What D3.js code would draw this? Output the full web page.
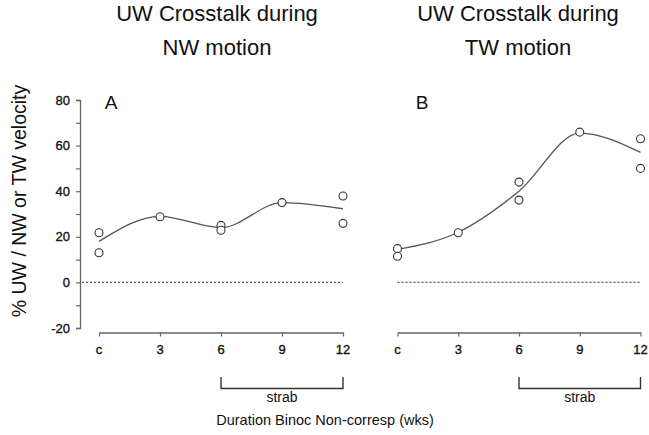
<!DOCTYPE html>
<html>
<head>
<meta charset="utf-8">
<script src="https://cdn.jsdelivr.net/npm/d3@7"></script>
<style>
  body { margin: 0; background: #fff; }
  text { font-family: "Liberation Sans", Arial, sans-serif; fill: #111; }
  .tk { stroke: #111; stroke-width: 0.35px; }
</style>
</head>
<body>
<svg id="chart" width="649" height="435"></svg>
<script>
// weeks of binocular non-correspondence (0 = control "c")
const weeks = [0, 3, 6, 9, 12];
const weekLabels = ["c", "3", "6", "9", "12"];

// panel A: UW crosstalk during NW motion (individual animals)
const ptsA = [[0, 21.8], [0, 13], [3, 28.8], [6, 25], [6, 22.9], [9, 35], [12, 37.9], [12, 25.9]];
const fitA = [18, 29, 24, 35, 32.3];

// panel B: UW crosstalk during TW motion
const ptsB = [[0, 14.8], [0, 11.5], [3, 21.8], [6, 44], [6, 36.1], [9, 65.9], [12, 63], [12, 50]];
const fitB = [14.5, 22, 40, 65.5, 57];

const yTicks = [-20, 0, 20, 40, 60, 80];

const svg = d3.select("#chart");

const y = d3.scaleLinear().domain([-20, 80]).range([328, 100]);

// y axis (only on the left panel)
const yAxis = svg.append("g").attr("transform", "translate(80,0)")
  .call(d3.axisLeft(y).tickValues(d3.range(-20, 81, 10)).tickSize(4).tickFormat(""));
yAxis.select(".domain").attr("stroke", "#666").attr("stroke-width", 1.3);
yAxis.selectAll(".tick line").attr("stroke", "#666").attr("stroke-width", 1.2);
svg.append("g").selectAll("text").data(yTicks).join("text")
  .attr("class", "tk")
  .attr("x", 70).attr("y", d => y(d)).attr("dy", "0.35em")
  .attr("text-anchor", "end").style("font-size", "13px")
  .text(d => d);

svg.append("text")
  .attr("transform", "translate(26,201) rotate(-90)")
  .attr("text-anchor", "middle").style("font-size", "19.5px")
  .text("% UW / NW or TW velocity");

const panels = [
  { letter: "A", title: ["UW Crosstalk during", "NW motion"], range: [99, 343], pts: ptsA, fit: fitA, tx: 217, lx: 111 },
  { letter: "B", title: ["UW Crosstalk during", "TW motion"], range: [397.5, 640.5], pts: ptsB, fit: fitB, tx: 518, lx: 422 }
];

panels.forEach(p => {
  const x = d3.scaleLinear().domain([0, 12]).range(p.range);
  const g = svg.append("g");

  // title
  g.append("text").attr("x", p.tx).attr("text-anchor", "middle").style("font-size", "22px")
    .selectAll("tspan").data(p.title).join("tspan")
      .attr("x", p.tx).attr("y", (d, i) => 21 + i * 34).text(d => d);

  g.append("text").attr("x", p.lx).attr("y", 109).attr("text-anchor", "middle")
    .style("font-size", "19px").text(p.letter);

  // x axis
  const xAxis = g.append("g").attr("transform", "translate(0,332.5)")
    .call(d3.axisBottom(x).tickValues(weeks).tickSize(4).tickSizeOuter(0).tickFormat(""));
  xAxis.select(".domain").attr("stroke", "#666").attr("stroke-width", 1.3);
  xAxis.selectAll(".tick line").attr("stroke", "#666").attr("stroke-width", 1.2);
  g.selectAll("text.xl").data(weeks).join("text").attr("class", "xl tk")
    .attr("x", d => x(d)).attr("y", 354).attr("text-anchor", "middle")
    .style("font-size", "13px").text((d, i) => weekLabels[i]);

  // zero reference
  g.append("line")
    .attr("x1", x(0) - 17 * (p.letter === "A" ? 1 : 0)).attr("x2", x(12))
    .attr("y1", y(0)).attr("y2", y(0))
    .attr("stroke", "#555").attr("stroke-width", 1.1).attr("stroke-dasharray", "2,2");

  // strab bracket
  g.append("path")
    .attr("d", `M${x(6)},377V388.5H${x(12)}V377`)
    .attr("fill", "none").attr("stroke", "#333").attr("stroke-width", 1.4);
  g.append("text").attr("x", (x(6) + x(12)) / 2).attr("y", 402)
    .attr("text-anchor", "middle").style("font-size", "14px").text("strab");

  // smooth fit
  const line = d3.line().x((d, i) => x(weeks[i])).y(d => y(d)).curve(d3.curveMonotoneX);
  g.append("path").attr("d", line(p.fit))
    .attr("fill", "none").attr("stroke", "#555").attr("stroke-width", 1.3);

  // animals
  g.selectAll("circle").data(p.pts).join("circle")
    .attr("cx", d => x(d[0])).attr("cy", d => y(d[1])).attr("r", 4)
    .attr("fill", "#fff").attr("stroke", "#333").attr("stroke-width", 1.1);
});

svg.append("text").attr("x", 325).attr("y", 425).attr("text-anchor", "middle")
  .style("font-size", "14.5px").text("Duration Binoc Non-corresp (wks)");
</script>
</body>
</html>
